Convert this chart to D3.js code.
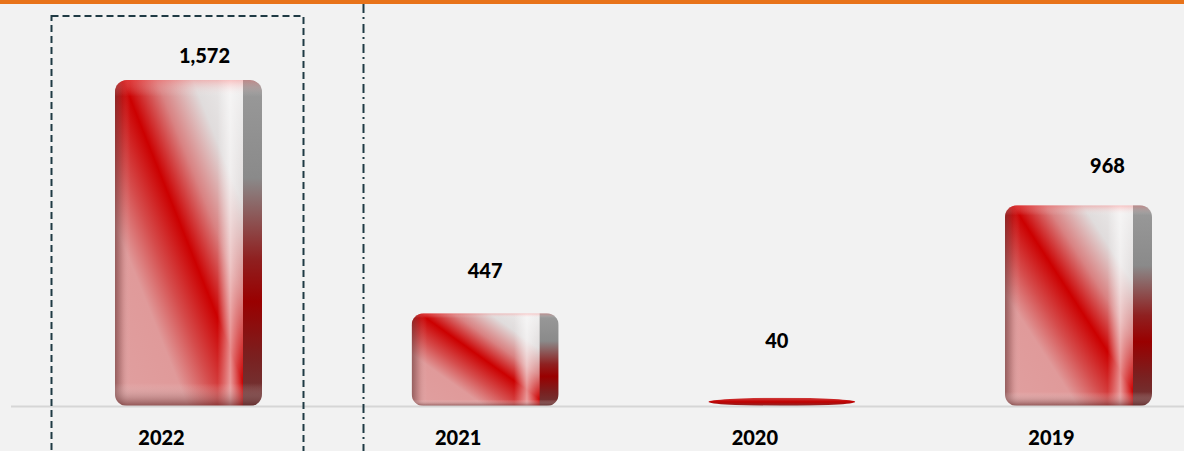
<!DOCTYPE html>
<html>
<head>
<meta charset="utf-8">
<script src="https://cdn.jsdelivr.net/npm/d3@7"></script>
<style>
  html, body { margin: 0; padding: 0; background: #f2f2f2; }
  svg { display: block; }
  text { font-family: Lato, "Open Sans", sans-serif; font-weight: 900; fill: #000; }
</style>
</head>
<body>
<div id="chart"></div>
<script>
// data
const years = ["2022", "2021", "2020", "2019"];
const values = [1572, 447, 40, 968];
// label nudges (the original labels were hand placed)
const labelDx = [16, 0, -5, 29];
const labelDy = [-17, -35, -50, -32];

const width = 1184;
const height = 451;
const baseY = 406;
const barW = 147;
const sideW = 19;

let svg = d3.select("#chart")
  .append("svg")
    .attr("width", width)
    .attr("height", height);

svg.append("rect")
  .attr("width", width).attr("height", height)
  .attr("fill", "#f2f2f2");

let x = d3.scalePoint()
  .domain(years)
  .range([188.5, 1078.5]);

let y = d3.scaleLinear()
  .domain([0, d3.max(values)])
  .range([baseY, 80]);

let defs = svg.append("defs");

// front face: white top-right, red diagonal, pink bottom-left
let gFace = defs.append("linearGradient")
  .attr("id", "face")
  .attr("x1", 1).attr("y1", 0).attr("x2", 0).attr("y2", 1);
[[0, "#f0f0f0"], [0.2, "#e0dcdc"], [0.34, "#d98282"], [0.47, "#cc0000"], [0.6, "#d54c4c"], [0.72, "#e09a9a"], [1, "#e0a0a0"]]
  .forEach(s => gFace.append("stop").attr("offset", s[0]).attr("stop-color", s[1]));

// flat face for a very thin bar
let gThin = defs.append("linearGradient")
  .attr("id", "thin")
  .attr("x1", 0).attr("y1", 0).attr("x2", 0).attr("y2", 1);
[[0, "#d04040"], [0.5, "#c00000"], [1, "#8a2a2a"]]
  .forEach(s => gThin.append("stop").attr("offset", s[0]).attr("stop-color", s[1]));

// right side face
let gSide = defs.append("linearGradient")
  .attr("id", "side")
  .attr("x1", 0).attr("y1", 0).attr("x2", 0).attr("y2", 1);
[[0, "#9a9a9a"], [0.3, "#8a8a8a"], [0.55, "#8f2020"], [0.68, "#990000"], [0.85, "#7a2020"], [1, "#6e3a3a"]]
  .forEach(s => gSide.append("stop").attr("offset", s[0]).attr("stop-color", s[1]));

// left edge shading
let gLeft = defs.append("linearGradient")
  .attr("id", "leftEdge")
  .attr("x1", 0).attr("y1", 0).attr("x2", 1).attr("y2", 0);
[[0, "#5a2a2a", 0.55], [0.06, "#5a2a2a", 0.15], [0.12, "#ffffff", 0]]
  .forEach(s => gLeft.append("stop").attr("offset", s[0]).attr("stop-color", s[1]).attr("stop-opacity", s[2]));

// white highlight strip near the right of the face
let gShine = defs.append("linearGradient")
  .attr("id", "shine")
  .attr("x1", 0).attr("y1", 0).attr("x2", 1).attr("y2", 0);
[[0.8, "#ffffff", 0], [0.9, "#ffffff", 0.55], [1, "#ffffff", 0]]
  .forEach(s => gShine.append("stop").attr("offset", s[0]).attr("stop-color", s[1]).attr("stop-opacity", s[2]));

// bottom / top bevel
let gBevel = defs.append("linearGradient")
  .attr("id", "bevel")
  .attr("x1", 0).attr("y1", 0).attr("x2", 0).attr("y2", 1);
[[0, "#ff6666", 0.35], [0.05, "#ffffff", 0], [0.93, "#ffffff", 0], [1, "#5a2020", 0.6]]
  .forEach(s => gBevel.append("stop").attr("offset", s[0]).attr("stop-color", s[1]).attr("stop-opacity", s[2]));

let data = years.map((yr, i) => ({ year: yr, value: values[i], i: i }));

data.forEach(d => {
  let x0 = x(d.year) - barW / 2;
  let top = y(d.value);
  let h = baseY - top;
  let r = Math.min(12, h / 2);
  let thin = h < 20;

  defs.append("clipPath").attr("id", "clip" + d.i)
    .append("rect")
      .attr("x", x0).attr("y", top)
      .attr("width", barW).attr("height", h)
      .attr("rx", thin ? barW / 2 : r)
      .attr("ry", r);

  let g = svg.append("g").attr("clip-path", `url(#clip${d.i})`);

  if (thin) {
    g.append("rect")
      .attr("x", x0).attr("y", top)
      .attr("width", barW).attr("height", h)
      .attr("fill", "url(#thin)");
    return;
  }

  g.append("rect")
    .attr("x", x0).attr("y", top)
    .attr("width", barW - sideW + 2).attr("height", h)
    .attr("fill", "url(#face)");
  g.append("rect")
    .attr("x", x0 + barW - sideW).attr("y", top)
    .attr("width", sideW).attr("height", h)
    .attr("fill", "url(#side)");
  g.append("rect")
    .attr("x", x0).attr("y", top)
    .attr("width", barW - sideW).attr("height", h)
    .attr("fill", "url(#leftEdge)");
  g.append("rect")
    .attr("x", x0).attr("y", top)
    .attr("width", barW - sideW).attr("height", h)
    .attr("fill", "url(#shine)");
  g.append("rect")
    .attr("x", x0).attr("y", top)
    .attr("width", barW).attr("height", h)
    .attr("fill", "url(#bevel)");
});

// baseline
svg.append("line")
  .attr("x1", 11).attr("x2", width)
  .attr("y1", baseY + 0.5).attr("y2", baseY + 0.5)
  .attr("stroke", "#d6d6d6")
  .attr("stroke-width", 2);

// value labels
svg.selectAll("text.val")
  .data(data)
  .enter()
  .append("text")
    .attr("class", "val")
    .attr("x", d => x(d.year) + labelDx[d.i])
    .attr("y", d => y(d.value) + labelDy[d.i])
    .attr("text-anchor", "middle")
    .attr("font-size", 20)
    .text(d => d3.format(",")(d.value));

// category labels
svg.selectAll("text.cat")
  .data(data)
  .enter()
  .append("text")
    .attr("class", "cat")
    .attr("x", d => x(d.year) - 27)
    .attr("y", 445)
    .attr("text-anchor", "middle")
    .attr("font-size", 20)
    .text(d => d.year);

// highlight box round 2022
svg.append("rect")
  .attr("x", 51.5).attr("y", 16)
  .attr("width", 252).attr("height", 460)
  .attr("fill", "none")
  .attr("stroke", "#1f3a44")
  .attr("stroke-width", 2)
  .attr("stroke-dasharray", "7,4");

// dash-dot divider
svg.append("line")
  .attr("x1", 363.5).attr("x2", 363.5)
  .attr("y1", 4).attr("y2", height)
  .attr("stroke", "#1f3a44")
  .attr("stroke-width", 2)
  .attr("stroke-dasharray", "9,4,2,5");

// orange top rule
svg.append("rect")
  .attr("x", 0).attr("y", 0)
  .attr("width", width).attr("height", 4)
  .attr("fill", "#e8731a");
</script>
</body>
</html>
